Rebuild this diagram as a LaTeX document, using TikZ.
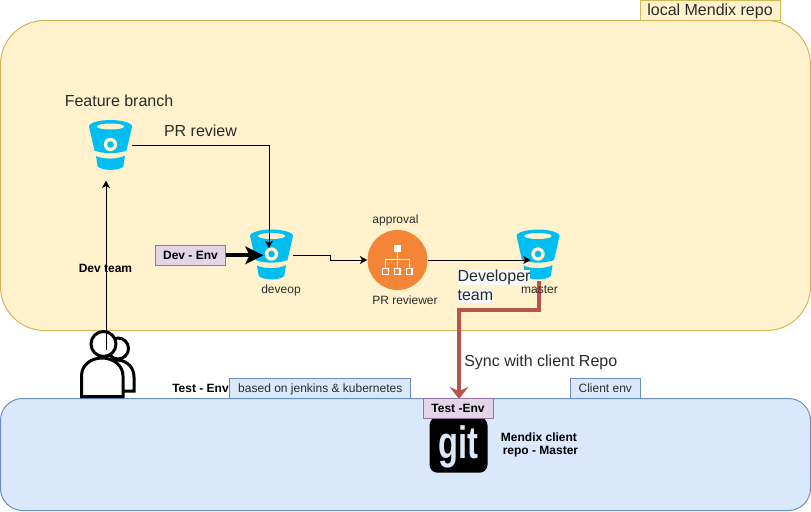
\documentclass[tikz,border=0pt]{standalone}
\usepackage{fontspec}
\setmainfont{Liberation Sans}
\usetikzlibrary{arrows.meta}
\definecolor{yfill}{HTML}{FFF2CC}
\definecolor{ystroke}{HTML}{D6B656}
\definecolor{bfill}{HTML}{DAE8FC}
\definecolor{bstroke}{HTML}{6C8EBF}
\definecolor{pfill}{HTML}{E1D5E7}
\definecolor{pstroke}{HTML}{9673A6}
\definecolor{bucketblue}{HTML}{00BEF2}
\definecolor{reviewer}{HTML}{F58536}
\definecolor{syncred}{HTML}{B85450}
\definecolor{txt}{HTML}{2B2B2B}
\definecolor{labelbg}{HTML}{F8F9FA}
\newcommand{\smalltxt}{\fontsize{9}{11}\selectfont}
\newcommand{\largetxt}{\fontsize{12}{14.5}\selectfont}
\tikzset{
  x=0.75pt, y=-0.75pt,
  areabox/.style={draw=#1, line width=0.75pt},
  yellowtag/.style={draw=ystroke, fill=yfill, line width=0.75pt, inner sep=0pt, text=txt, font=\largetxt, minimum width=105pt, minimum height=15pt, text height=10pt, text depth=2.5pt},
  bluetag/.style={draw=bstroke, fill=bfill, line width=0.75pt, inner sep=0pt, text=txt, font=\smalltxt, minimum height=15pt, text height=7.5pt, text depth=1.5pt},
  purpletag/.style={draw=pstroke, fill=pfill, line width=0.75pt, inner sep=0pt, text=black, font=\smalltxt\bfseries, minimum width=52.5pt, minimum height=15pt},
  small/.style={inner sep=0pt, text=txt, font=\smalltxt},
  smallbold/.style={inner sep=0pt, text=black, font=\smalltxt\bfseries},
  large/.style={inner sep=0pt, text=txt, font=\largetxt},
  link/.style={draw=black, line width=0.75pt, -{Stealth[length=5.5pt,width=6pt,inset=1.5pt]}},
  bucketnode/.style={inner sep=0pt, minimum width=32.25pt, minimum height=38.25pt},
  bucket/.pic={
    \fill[bucketblue] (-21.5,-19) .. controls (-21.5,-23) and (-10,-25.5) .. (0,-25.5)
       .. controls (10,-25.5) and (21.5,-23) .. (21.5,-19)
       -- (16,5) .. controls (8,8.5) and (-8,8.5) .. (-16,5) -- cycle;
    \fill[bucketblue] (-14.5,10.5) .. controls (-8,14) and (8,14) .. (14.5,10)
       -- (12.8,21) .. controls (8,25.5) and (-8,25.5) .. (-12.8,21) -- cycle;
    \fill[yfill] (0,-19) ellipse [x radius=13.7, y radius=3];
    \fill[yfill] (0,-1) circle [radius=6.7];
    \fill[bucketblue] (0,-1) circle [radius=3.3];
  }
}
\begin{document}
\begin{tikzpicture}
\useasboundingbox (0,0) rectangle (811,511);
% areas
\draw[areabox=ystroke, fill=yfill] (0.5,20.5) [rounded corners=33pt] rectangle (810.5,330.5);
\draw[areabox=bstroke, fill=bfill] (0.5,398.5) [rounded corners=16.5pt] rectangle (810.5,510.5);
\node[yellowtag] (localrepo) at (710,10) {local Mendix repo};
% person
\begin{scope}[line width=2.25pt, draw=black, fill=white]
  \filldraw (118,348.5) circle [radius=10.5];
  \filldraw (118,360) .. controls (128,361) and (134,368) .. (134,377) -- (134,391) -- (115,391) -- (115,360) -- cycle;
  \filldraw (103.5,344) circle [radius=12.5];
  \filldraw (81.5,396.5) -- (81.5,376) .. controls (81.5,365) and (91,358) .. (102,358)
     .. controls (113,358) and (123,365) .. (123,376) -- (123,396.5) -- cycle;
\end{scope}
\coordinate (personinner) at (106,350);
% buckets
\node[bucketnode] (feature) at (110.5,145.5) {};
\pic at (feature.center) {bucket};
\node[bucketnode] (develop) at (271.5,255) {};
\pic at (develop.center) {bucket};
\node[bucketnode] (master) at (538,255) {};
\pic at (master.center) {bucket};
% reviewer
\node[circle, fill=reviewer, minimum size=45pt, inner sep=0pt] (review) at (397.5,260) {};
\begin{scope}[white, line width=1pt]
  \fill (394,245) rectangle (400.5,251.5);
  \draw (397.2,251) -- (397.2,268);
  \draw (385.3,268) -- (385.3,259.5) -- (409.2,259.5) -- (409.2,268);
  \draw[fill=reviewer] (382.4,268.5) rectangle (388.2,274.3);
  \draw[fill=reviewer] (394.3,268.5) rectangle (400.1,274.3);
  \draw[fill=reviewer] (406.3,268.5) rectangle (412.1,274.3);
\end{scope}
% git
\node[fill=black, rounded corners=6pt, minimum width=43.5pt, minimum height=41.5pt, inner sep=0pt] (gitlogo) at (458.5,445) {};
\node[inner sep=0pt, text=bfill, font=\fontsize{34}{34}\selectfont\bfseries] (gittext) at (458,447) {\scalebox{0.72}[1]{git}};
% connectors
\coordinate (personarrowtip) at (106,180.7);
\draw[link] (personinner) -- (personarrowtip);
\coordinate (developtip) at (269,248);
\coordinate (featureout) at (feature.east);
\draw[link] (featureout) -| (developtip);
\coordinate (reviewin) at (review.west);
\draw[link] (develop.east) -| (330,260) -- (reviewin);
\coordinate (mastertip) at (530.5,260);
\draw[link] (review.east) -- (mastertip);
\coordinate (redstart) at (538.5,281);
\coordinate (redtip) at (459,399);
\draw[syncred, line width=3pt, -{Stealth[length=9pt,width=14pt,inset=3pt]}] (redstart) -- (538.5,310) -- (459,310) -- (redtip);
% tags
\node[purpletag] (devenv) at (190.5,255.3) {Dev - Env};
\coordinate (devenvtip) at (263.5,255.3);
\draw[black, line width=3pt, -{Stealth[length=13.5pt,width=13pt,inset=3pt]}] (devenv.east) -- (devenvtip);
\node[purpletag] (testenv) at (458,408) {Test -Env};
\node[bluetag, minimum width=135.5pt] (jenkins) at (320.3,388.3) {based on jenkins \& kubernetes};
\node[bluetag, minimum width=52.8pt] (clientenv) at (605.3,388.3) {Client env};
% labels
\node[large, anchor=west] (featurelabel) at (64.5,100.5) {Feature branch};
\node[large] (prlabel) at (200.5,130.5) {PR review};
\node[smallbold] (devteam) at (105.5,268) {Dev team};
\node[small] (deveoplabel) at (281,290) {deveop};
\node[small] (approval) at (395.5,220) {approval};
\node[small] (prreviewer) at (405,300) {PR reviewer};
\node[small] (masterlabel) at (539.5,290) {master};
\node[large, anchor=north west, align=left] (devlabel) at (457.3,269.5)
  {\setlength{\fboxsep}{0pt}\colorbox{labelbg}{Developer\vphantom{g}}\\[-0.5pt]\setlength{\fboxsep}{0pt}\colorbox{labelbg}{team\vphantom{g}}};
\node[large, anchor=west] (synclabel) at (464,362) {Sync with client Repo};
\node[smallbold, anchor=east] (testlabel) at (229,388) {Test - Env};
\node[smallbold, anchor=west] (mendix1) at (500.7,437) {Mendix client};
\node[smallbold, anchor=west] (mendix2) at (502.5,452) {repo - Master};
\end{tikzpicture}
\end{document}
